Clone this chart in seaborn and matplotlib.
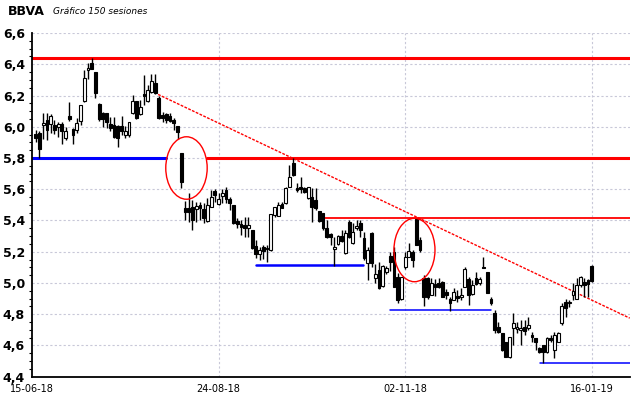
import numpy as np
import matplotlib
matplotlib.use('Agg')
import matplotlib.pyplot as plt
from matplotlib.patches import Ellipse
from matplotlib.ticker import MultipleLocator, FuncFormatter
import seaborn as sns

# datos (150 sesiones, OHLC)
opens = [5.951, 5.96, 6.01, 6.043, 6.017, 6.011, 6.0, 6.015, 5.925, 6.07,
         5.985, 5.979, 6.036, 6.164, 6.363, 6.405, 6.352, 6.143, 6.085, 6.085,
         6.02, 6.011, 6.007, 6.005, 5.947, 5.947, 6.086, 6.165, 6.079, 6.207,
         6.165, 6.22, 6.278, 6.182, 6.075, 6.079, 6.07, 6.043, 6.007, 5.83,
         5.478, 5.482, 5.484, 5.471, 5.499, 5.471, 5.396, 5.488, 5.591, 5.505,
         5.556, 5.595, 5.535, 5.499, 5.399, 5.377, 5.371, 5.35, 5.339, 5.236,
         5.185, 5.232, 5.223, 5.211, 5.435, 5.431, 5.503, 5.51, 5.616, 5.77,
         5.61, 5.616, 5.606, 5.542, 5.552, 5.531, 5.461, 5.446, 5.35, 5.311,
         5.217, 5.247, 5.303, 5.19, 5.392, 5.253, 5.35, 5.382, 5.286, 5.125,
         5.317, 5.03, 5.083, 4.98, 5.072, 5.172, 5.2, 5.04, 4.895, 5.1,
         5.168, 5.2, 5.407, 5.275, 5.029, 5.029, 4.923, 4.993, 5.002, 5.008,
         4.94, 4.9, 4.891, 4.916, 4.908, 4.976, 5.023, 4.929, 5.029, 5.002,
         5.104, 5.072, 4.9, 4.81, 4.716, 4.677, 4.624, 4.528, 4.709, 4.703,
         4.699, 4.716, 4.71, 4.667, 4.646, 4.581, 4.603, 4.56, 4.646, 4.571,
         4.624, 4.741, 4.88, 4.869, 4.92, 4.9, 4.99, 5.008, 5.016, 5.11]
highs = [5.979, 5.97, 6.085, 6.085, 6.079, 6.043, 6.032, 6.032, 6.0, 6.16,
         5.99, 6.053, 6.139, 6.363, 6.41, 6.44, 6.352, 6.15, 6.092, 6.09,
         6.065, 6.064, 6.011, 6.07, 6.005, 6.028, 6.203, 6.165, 6.171, 6.331,
         6.267, 6.335, 6.335, 6.2, 6.096, 6.086, 6.086, 6.054, 6.007, 5.83,
         5.527, 5.574, 5.531, 5.52, 5.52, 5.514, 5.541, 5.595, 5.6, 5.574,
         5.6, 5.612, 5.552, 5.499, 5.413, 5.403, 5.424, 5.424, 5.339, 5.275,
         5.232, 5.243, 5.243, 5.439, 5.488, 5.516, 5.52, 5.616, 5.755, 5.8,
         5.638, 5.68, 5.616, 5.616, 5.606, 5.606, 5.461, 5.446, 5.403, 5.318,
         5.296, 5.307, 5.339, 5.339, 5.403, 5.382, 5.403, 5.403, 5.328, 5.232,
         5.328, 5.12, 5.136, 5.115, 5.11, 5.2, 5.232, 5.061, 5.04, 5.2,
         5.258, 5.211, 5.414, 5.296, 5.051, 5.04, 5.029, 5.023, 5.029, 5.015,
         4.96, 4.912, 4.966, 4.955, 4.965, 5.104, 5.04, 5.019, 5.072, 5.04,
         5.168, 5.072, 4.908, 4.827, 4.752, 4.682, 4.624, 4.656, 4.806, 4.752,
         4.763, 4.763, 4.784, 4.688, 4.65, 4.592, 4.603, 4.652, 4.667, 4.688,
         4.688, 4.869, 4.9, 4.891, 5.0, 5.03, 5.044, 5.03, 5.023, 5.115]
lows = [5.9, 5.8, 5.92, 5.915, 5.957, 5.951, 5.936, 5.887, 5.915, 6.04,
        5.887, 5.957, 6.011, 6.16, 6.305, 6.37, 6.181, 6.04, 6.0, 5.99,
        5.97, 5.93, 5.872, 5.95, 5.93, 5.936, 6.079, 6.05, 6.075, 6.139,
        6.16, 6.214, 6.207, 6.05, 6.028, 6.022, 6.032, 5.979, 5.921, 5.606,
        5.403, 5.392, 5.339, 5.392, 5.403, 5.386, 5.392, 5.484, 5.52, 5.499,
        5.514, 5.514, 5.467, 5.377, 5.35, 5.307, 5.296, 5.292, 5.217, 5.157,
        5.147, 5.151, 5.136, 5.204, 5.424, 5.431, 5.478, 5.503, 5.616, 5.685,
        5.584, 5.574, 5.574, 5.537, 5.388, 5.467, 5.388, 5.339, 5.29, 5.243,
        5.11, 5.243, 5.26, 5.183, 5.285, 5.249, 5.339, 5.296, 5.147, 5.019,
        5.104, 5.0, 4.959, 4.976, 5.06, 5.079, 4.972, 4.874, 4.891, 5.087,
        5.164, 5.104, 5.243, 5.2, 4.852, 4.895, 4.923, 4.916, 4.965, 4.912,
        4.9, 4.822, 4.891, 4.88, 4.89, 4.972, 4.859, 4.923, 4.987, 4.987,
        5.094, 4.934, 4.859, 4.677, 4.677, 4.566, 4.524, 4.52, 4.603, 4.677,
        4.603, 4.667, 4.699, 4.624, 4.57, 4.549, 4.485, 4.553, 4.624, 4.517,
        4.62, 4.731, 4.784, 4.848, 4.89, 4.9, 4.976, 4.912, 4.912, 5.005]
closes = [5.925, 5.86, 6.025, 5.979, 6.068, 5.979, 6.015, 5.972, 5.972, 6.05,
          5.947, 6.021, 6.139, 6.314, 6.378, 6.37, 6.213, 6.049, 6.049, 6.032,
          5.99, 5.936, 5.926, 5.975, 5.975, 6.028, 6.165, 6.054, 6.128, 6.199,
          6.235, 6.293, 6.214, 6.054, 6.058, 6.043, 6.036, 6.022, 5.968, 5.644,
          5.456, 5.456, 5.403, 5.492, 5.478, 5.413, 5.499, 5.55, 5.563, 5.535,
          5.574, 5.535, 5.514, 5.382, 5.377, 5.356, 5.35, 5.371, 5.221, 5.185,
          5.211, 5.207, 5.215, 5.439, 5.488, 5.499, 5.482, 5.61, 5.68, 5.69,
          5.595, 5.601, 5.584, 5.612, 5.488, 5.478, 5.396, 5.35, 5.296, 5.296,
          5.23, 5.303, 5.268, 5.318, 5.296, 5.328, 5.365, 5.339, 5.158, 5.211,
          5.125, 5.06, 4.965, 5.108, 5.094, 5.136, 4.972, 4.89, 5.036, 5.164,
          5.206, 5.147, 5.243, 5.211, 4.912, 4.908, 5.002, 4.972, 4.972, 4.912,
          4.925, 4.87, 4.944, 4.901, 4.922, 5.087, 4.923, 4.987, 4.993, 5.023,
          5.094, 4.934, 4.87, 4.7, 4.688, 4.571, 4.528, 4.652, 4.746, 4.716,
          4.709, 4.695, 4.73, 4.652, 4.624, 4.56, 4.56, 4.646, 4.635, 4.667,
          4.682, 4.852, 4.837, 4.88, 4.946, 4.985, 5.036, 4.99, 4.995, 5.01]

date_ticks = [0, 50, 100, 150]
date_labels = ['15-06-18', '24-08-18', '02-11-18', '16-01-19']

# soportes / resistencias: (sesion inicio, sesion fin, precio, color, grosor)
levels = [
    (0, 160.2, 6.443, 'red', 2.2),
    (0, 35.8, 5.797, 'blue', 2.2),
    (47, 160.2, 5.797, 'red', 2.2),
    (78.2, 160.2, 5.414, 'red', 1.3),
    (60.1, 88.8, 5.115, 'blue', 1.8),
    (95.9, 123, 4.824, 'blue', 1.1),
    (136.1, 160.2, 4.485, 'blue', 1.1),
]
trend_x = [33.8, 160.2]
trend_y = [6.207, 4.775]

# circulos (centro sesion, centro precio, ancho, alto)
circles = [(41.4, 5.736, 11.1, 0.40), (102.5, 5.211, 11.0, 0.406)]

sns.set_style('white')
plt.rcParams['font.family'] = ['DejaVu Sans']
plt.rcParams['xtick.color'] = 'black'
plt.rcParams['ytick.color'] = 'black'
plt.rcParams['xtick.labelcolor'] = 'black'
plt.rcParams['ytick.labelcolor'] = 'black'
plt.rcParams['text.color'] = 'black'

fig = plt.figure(figsize=(6.4, 3.98), dpi=100)
ax = fig.add_axes([0.05, 0.0535, 0.934, 0.8635])

idx = np.arange(1, len(closes) + 1)
o = np.array(opens)
c = np.array(closes)

# grid
for p in np.arange(4.6, 6.61, 0.2):
    ax.axhline(p, color='#c8c8d8', lw=0.8, ls=(0, (2, 2)), zorder=0)
for t in date_ticks[1:]:
    ax.axvline(t, color='#c8c8d8', lw=0.8, ls=(0, (2, 2)), zorder=0)

# lineas de soporte / resistencia
for x0, x1, p, col, lw in levels:
    sns.lineplot(x=[x0, x1], y=[p, p], color=col, lw=lw, ax=ax, zorder=2)
sns.lineplot(x=trend_x, y=trend_y, color='red', lw=1.0, ls=(0, (2, 1)), ax=ax, zorder=2)

# velas
ax.vlines(idx, lows, highs, color='black', lw=1.0, zorder=3)
up = c >= o
body_h = np.maximum(np.abs(c - o), 0.004)
ax.bar(idx, body_h, bottom=np.minimum(o, c), width=0.75,
       color=np.where(up, 'white', 'black'), edgecolor='black', lw=0.8, zorder=4)

for cx, cy, w, h in circles:
    ax.add_patch(Ellipse((cx, cy), w, h, fill=False, edgecolor='red', lw=1.0, zorder=5))

ax.set_xlim(0, 160.2)
ax.set_ylim(4.4, 6.6)
ax.set_xticks(date_ticks)
ax.set_xticklabels(date_labels, fontsize=7, color='black')
ax.yaxis.set_major_locator(MultipleLocator(0.2))
ax.yaxis.set_minor_locator(MultipleLocator(0.05))
ax.yaxis.set_major_formatter(FuncFormatter(lambda v, _: f'{v:.1f}'.replace('.', ',')))
ax.tick_params(axis='y', which='major', length=4, width=1, direction='out', pad=1,
               labelsize=9, colors='black')
ax.tick_params(axis='y', which='minor', length=2, width=0.8, direction='out', left=True,
               colors='black')
ax.tick_params(axis='x', which='major', length=3, width=1, direction='out', pad=2,
               colors='black')
plt.setp(ax.get_yticklabels(), fontweight='bold', color='black')

for s in ['top', 'right']:
    ax.spines[s].set_visible(False)
for s in ['left', 'bottom']:
    ax.spines[s].set_color('black')
    ax.spines[s].set_linewidth(1.3)

fig.text(0.012, 0.97, 'BBVA', fontsize=9, fontweight='bold', va='center', color='black')
fig.text(0.083, 0.97, 'Gráfico 150 sesiones', fontsize=6.5, style='italic', va='center',
         color='black')

fig.savefig('out.png', dpi=100)
